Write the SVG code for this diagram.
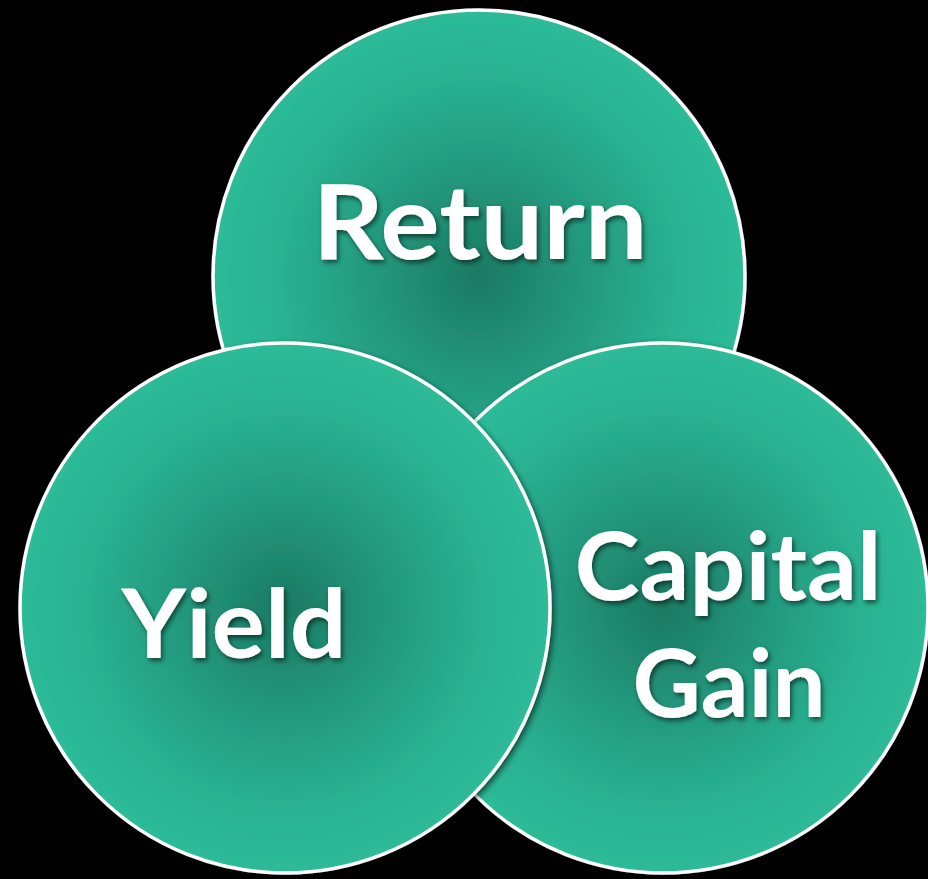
<svg xmlns="http://www.w3.org/2000/svg" width="928" height="879" viewBox="0 0 928 879">
  <defs>
    <radialGradient id="tealGrad" cx="50%" cy="50%" r="50%">
      <stop offset="0" stop-color="#1b7a62"/>
      <stop offset="0.35" stop-color="#22957a"/>
      <stop offset="0.75" stop-color="#29b291"/>
      <stop offset="1" stop-color="#2dbb98"/>
    </radialGradient>
    <filter id="circleShadow" x="-10%" y="-10%" width="120%" height="120%">
      <feDropShadow dx="2" dy="3" stdDeviation="3" flood-color="#000" flood-opacity="0.6"/>
    </filter>
    <filter id="textShadow" x="-10%" y="-20%" width="120%" height="140%">
      <feDropShadow dx="2" dy="3" stdDeviation="2.5" flood-color="#000" flood-opacity="0.55"/>
    </filter>
  </defs>
  <style>
    .bubble { fill: url(#tealGrad); stroke: #ffffff; stroke-width: 3.5; filter: url(#circleShadow); }
    .label { font-family: "Lato", "Liberation Sans", sans-serif; font-weight: 700; fill: #ffffff; text-anchor: middle; filter: url(#textShadow); }
  </style>
  <rect width="928" height="879" fill="#000000"/>
  <g id="connectors"/>
  <g id="node-return">
    <circle class="bubble" cx="479" cy="276" r="266"/>
    <text class="label" x="480" y="259" font-size="104" textLength="335" lengthAdjust="spacingAndGlyphs">Return</text>
  </g>
  <g id="node-capital-gain">
    <circle class="bubble" cx="663" cy="608" r="265"/>
    <text class="label" x="728" y="600" font-size="94" textLength="307" lengthAdjust="spacingAndGlyphs">Capital</text>
    <text class="label" x="729" y="717" font-size="94" textLength="193" lengthAdjust="spacingAndGlyphs">Gain</text>
  </g>
  <g id="node-yield">
    <circle class="bubble" cx="285" cy="608" r="265"/>
    <text class="label" x="234" y="658" font-size="95" textLength="225" lengthAdjust="spacingAndGlyphs">Yield</text>
  </g>
</svg>
